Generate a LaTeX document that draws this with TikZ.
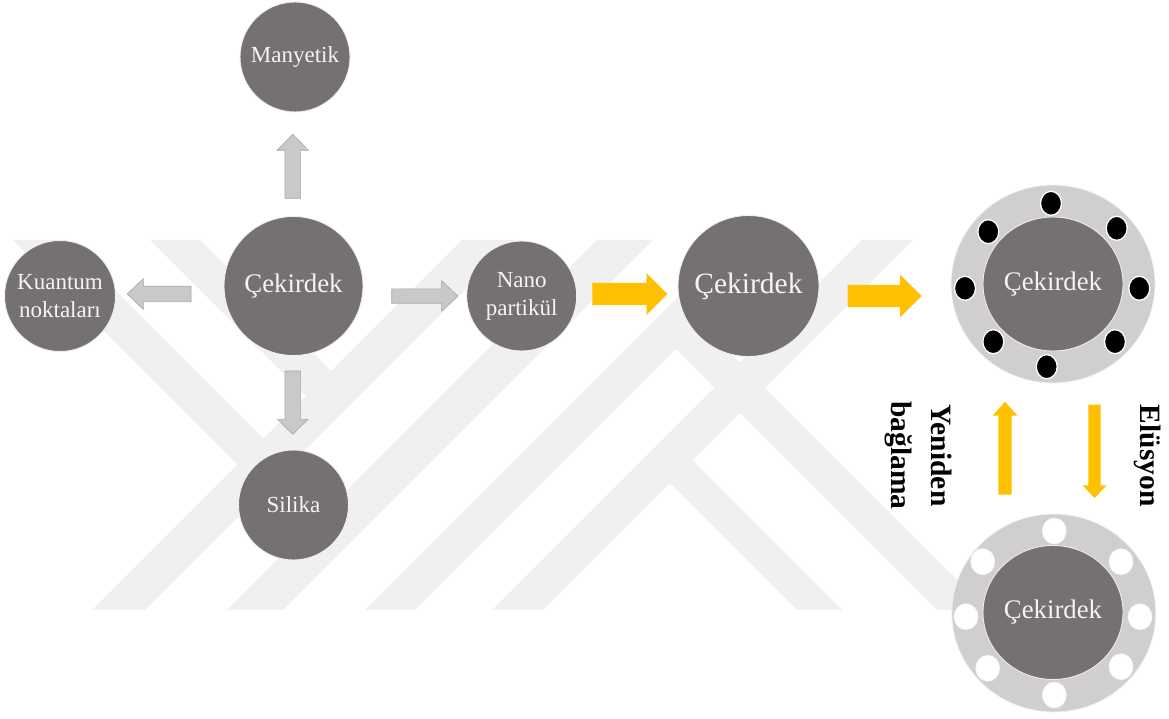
\documentclass[tikz,border=0pt]{standalone}
\usepackage{fontspec}
\setmainfont{Liberation Serif}
\usetikzlibrary{calc,shapes.geometric}
\definecolor{corec}{RGB}{117,113,112}
\definecolor{ringc}{RGB}{208,206,206}
\definecolor{wmc}{RGB}{240,240,240}
\definecolor{garrow}{RGB}{201,201,201}
\definecolor{garrowd}{RGB}{168,168,168}
\definecolor{yelc}{RGB}{255,192,0}
\definecolor{ctext}{RGB}{244,244,244}
% #1 style, #2 start, #3 tip, #4 shaft half width, #5 head half width, #6 head length
\newcommand\blockarrow[6]{%
  \coordinate (hb) at ($(#3)!#6!(#2)$);
  \path[#1] ($(#2)!#4!90:(#3)$) -- ($(hb)!#4!90:(#3)$) -- ($(hb)!#5!90:(#3)$) -- (#3)
    -- ($(hb)!#5!-90:(#3)$) -- ($(hb)!#4!-90:(#3)$) -- ($(#2)!#4!-90:(#3)$) -- cycle;
}
\tikzset{
  core/.style={circle, fill=corec, draw=white!88!gray, line width=0.9pt, inner sep=0pt,
    minimum size=#1, text=ctext, align=center},
  smalltxt/.style={font=\fontsize{23}{28}\selectfont},
  ringout/.style={ellipse, fill=ringc, draw=white!90!gray, line width=0.8pt, inner sep=0pt,
    minimum width=204pt, minimum height=198pt},
  ringin/.style={ellipse, fill=corec, draw=white!85!gray, line width=0.9pt, inner sep=0pt,
    minimum width=140pt, minimum height=134pt, text=ctext, font=\fontsize{26.8}{30}\selectfont},
  bdot/.style={ellipse, fill=black, draw=white, line width=1.3pt, inner sep=0pt,
    minimum width=21pt, minimum height=24pt},
  wdot/.style={ellipse, fill=white, draw=white!92!gray, line width=0.6pt, inner sep=0pt,
    minimum width=24pt, minimum height=26pt},
  grayarrow/.style={fill=garrow, draw=garrowd, line width=0.6pt},
  yelarrow/.style={fill=yelc, draw=none},
  wmark/.style={fill=wmc, draw=none},
  lbl/.style={rotate=-90, font=\bfseries\fontsize{29.5}{40}\selectfont, align=center, text=black}
}
\begin{document}
\begin{tikzpicture}[x=1pt,y=-1pt]
\useasboundingbox (0,0) rectangle (1169,719);
\fill[white] (0,0) rectangle (1169,719);
% watermark
\fill[wmark] (92,610) -- (145,610) -- (515,240) -- (462,240) -- cycle;
\fill[wmark] (227,610) -- (283,610) -- (653,240) -- (597,240) -- cycle;
\fill[wmark] (365,610) -- (415,610) -- (785,240) -- (735,240) -- cycle;
\fill[wmark] (492,610) -- (543,610) -- (913,240) -- (862,240) -- cycle;
\fill[wmark] (13,240) -- (65,240) -- (263.5,438.5) -- (237.5,464.5) -- cycle;
\fill[wmark] (150,240) -- (200,240) -- (331,371) -- (306,396) -- cycle;
\fill[wmark] (670,483) -- (692.5,460.5) -- (842,610) -- (797,610) -- cycle;
\fill[wmark] (676,349) -- (701,324) -- (987,610) -- (937,610) -- cycle;

% nodes
\node[core=110pt, smalltxt] (mag) at (295,57) {Manyetik};
\node[core=111pt, smalltxt] (qd) at (60,296) {Kuantum\\noktaları};
\node[core=110pt, smalltxt] (sil) at (293.5,505) {Silika};
\node[core=110pt, smalltxt] (nano) at (521.7,296) {Nano\\partikül};
\node[core=139pt, font=\fontsize{26.8}{30}\selectfont] (core1) at (293.5,286) {Çekirdek};
\node[core=141pt, font=\fontsize{29.5}{33}\selectfont] (core2) at (748.5,286) {Çekirdek};

\node[ringout] (ring1) at (1053,284) {};
\node[ringin] (core3) at (1053,284) {Çekirdek};
\node[bdot] (b1) at (1051,203.3) {};
\node[bdot] (b2) at (1116.7,228.3) {};
\node[bdot] (b3) at (1139.3,288.3) {};
\node[bdot] (b4) at (1115,341.7) {};
\node[bdot] (b5) at (1046.7,366.7) {};
\node[bdot] (b6) at (993.3,341.7) {};
\node[bdot] (b7) at (965,288.3) {};
\node[bdot] (b8) at (988.3,231.7) {};

\node[ringout] (ring2) at (1053.8,613) {};
\node[ringin] (core4) at (1053,612.5) {Çekirdek};
\node[wdot] (w1) at (1054.3,531) {};
\node[wdot] (w2) at (1121,561.7) {};
\node[wdot] (w3) at (1140,616.7) {};
\node[wdot] (w4) at (1121,666.7) {};
\node[wdot] (w5) at (1054.3,695) {};
\node[wdot] (w6) at (987.7,668.3) {};
\node[wdot] (w7) at (966,616.7) {};
\node[wdot] (w8) at (982.7,561.7) {};

\node[lbl] (rebind) at (918,455.6) {Yeniden\\bağlama};
\node[lbl] (elu) at (1148,455.6) {Elüsyon};

% arrow end points
\coordinate (aUpS) at (292.8,198.3);  \coordinate (aUpE) at (292.8,134.3);
\coordinate (aLS) at (191,294);       \coordinate (aLE) at (127.3,294);
\coordinate (aDnS) at (292.8,371);    \coordinate (aDnE) at (292.8,434.3);
\coordinate (aRS) at (391.7,296);     \coordinate (aRE) at (457.7,296);
\coordinate (y1S) at (592.3,294);     \coordinate (y1E) at (667.3,294);
\coordinate (y2S) at (847.7,296);     \coordinate (y2E) at (921.7,296);
\coordinate (y3S) at (1005,494.7);    \coordinate (y3E) at (1005,401.8);
\coordinate (y4S) at (1094.5,404.6);  \coordinate (y4E) at (1094.5,498);

\blockarrow{grayarrow}{aUpS}{aUpE}{7.8pt}{15.7pt}{16pt}
\blockarrow{grayarrow}{aLS}{aLE}{7.8pt}{15.5pt}{16pt}
\blockarrow{grayarrow}{aDnS}{aDnE}{7.8pt}{15.3pt}{15pt}
\blockarrow{grayarrow}{aRS}{aRE}{7.2pt}{15.3pt}{16pt}
\blockarrow{yelarrow}{y1S}{y1E}{11.2pt}{20.8pt}{20.6pt}
\blockarrow{yelarrow}{y2S}{y2E}{11.2pt}{21.2pt}{21.7pt}
\blockarrow{yelarrow}{y3S}{y3E}{6.7pt}{12.3pt}{13.7pt}
\blockarrow{yelarrow}{y4S}{y4E}{6.2pt}{12pt}{12.6pt}
\end{tikzpicture}
\end{document}
